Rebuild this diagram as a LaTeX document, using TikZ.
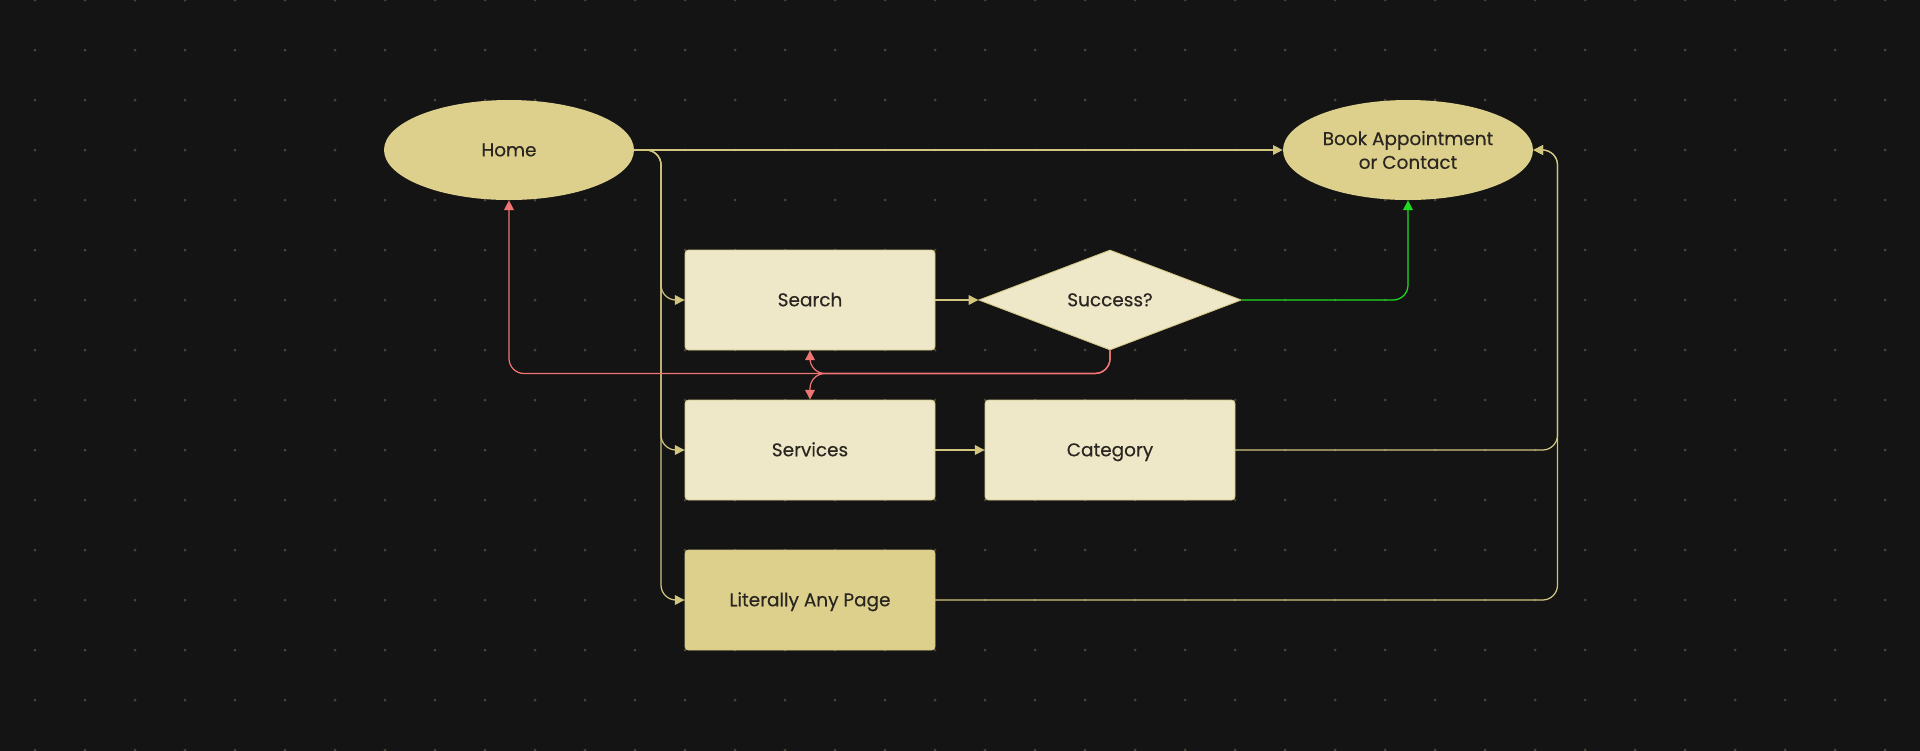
\documentclass[tikz,border=0pt]{standalone}
\usepackage{fontspec}
\setmainfont{Poppins}[FakeBold=0.35]
\usetikzlibrary{arrows.meta,calc,positioning,shapes.geometric}

\definecolor{bgdark}{HTML}{141414}
\definecolor{dotc}{HTML}{4A4537}
\definecolor{hubfill}{HTML}{DCD08C}
\definecolor{pagefill}{HTML}{EEE8C8}
\definecolor{pageedge}{HTML}{D4C886}
\definecolor{linkc}{HTML}{D2C680}
\definecolor{noc}{HTML}{F07474}
\definecolor{yesc}{HTML}{1EDC1E}
\definecolor{ink}{HTML}{2A2520}

\begin{document}
\begin{tikzpicture}[
    >={Triangle[length=5.5pt,width=5.5pt]},
    font=\fontsize{10.5}{13.5}\selectfont,
    link/.style={->, draw=linkc, line width=0.7pt, rounded corners=0.3cm},
    nolink/.style={link, draw=noc},
    yeslink/.style={link, draw=yesc},
    hub/.style={ellipse, fill=hubfill, text=ink, align=center, inner sep=0pt,
                minimum width=5cm, minimum height=2cm},
    page/.style={draw=pageedge, fill=pagefill, text=ink, rounded corners=2pt,
                 line width=0.5pt, minimum width=5cm, minimum height=2cm,
                 text height=1.6ex, text depth=0.3ex},
    ask/.style={diamond, aspect=2.6, draw=pageedge, fill=pagefill, text=ink,
                line width=0.5pt, inner sep=0pt, text height=1.6ex, text depth=0.3ex,
                minimum width=5.25cm, minimum height=2cm}
]

% ---- canvas ----
\useasboundingbox (0,0) rectangle (38.4,-15);
\fill[bgdark] (-1,1) rectangle (39.4,-16);
\foreach \i in {0,...,37}
  \foreach \j in {0,...,15}
    \fill[dotc] (0.7+\i,-\j) circle (0.03);

% ---- column x-positions ----
\def\cA{10.18}
\def\cB{16.2}
\def\cC{22.2}
\def\cD{28.16}

% ---- row y-positions ----
\def\rTop{-3}
\def\rSearch{-6}
\def\rServ{-9}
\def\rAny{-12}

% bus lines
\def\xBus{13.22}
\def\yNo{-7.47}
\def\xRight{31.15}

% ===== NODES =====
\node[hub] (home) at (\cA,\rTop) {Home};
\node[hub] (book) at (\cD,\rTop) {Book Appointment\\or Contact};

\node[page] (search)   at (\cB,\rSearch) {Search};
\node[ask]  (success)  at (\cC,\rSearch) {Success?};
\node[page] (services) at (\cB,\rServ) {Services};
\node[page] (category) at (\cC,\rServ) {Category};
\node[page, fill=hubfill] (anypage) at (\cB,\rAny) {Literally Any Page};

\coordinate (bus)   at (\xBus,\rTop);
\coordinate (fail)  at (\cC,\yNo);
\coordinate (right) at (\xRight,\rTop);

% ===== FROM HOME =====
\draw[link] (home.east) -- (book.west);
\draw[link] (home.east) -| (bus |- search.west) -- (search.west);
\draw[link] (home.east) -| (bus |- services.west) -- (services.west);
\draw[link] (home.east) -| (bus |- anypage.west) -- (anypage.west);

% ===== SEARCH LOOP =====
\draw[link] (search) -- (success);
\draw[yeslink] (success.east) -| (book.south);
% failed search: back home, retry, or browse
\draw[nolink] (success.south) -- (fail) -| (home.south);
\draw[nolink] (success.south) -- (fail) -| (search.south);
\draw[nolink] (success.south) -- (fail) -| (services.north);

% ===== BROWSE =====
\draw[link] (services) -- (category);
\draw[link] (category.east) -| (right) -- (book.east);
\draw[link] (anypage.east) -| (right) -- (book.east);

\end{tikzpicture}
\end{document}
